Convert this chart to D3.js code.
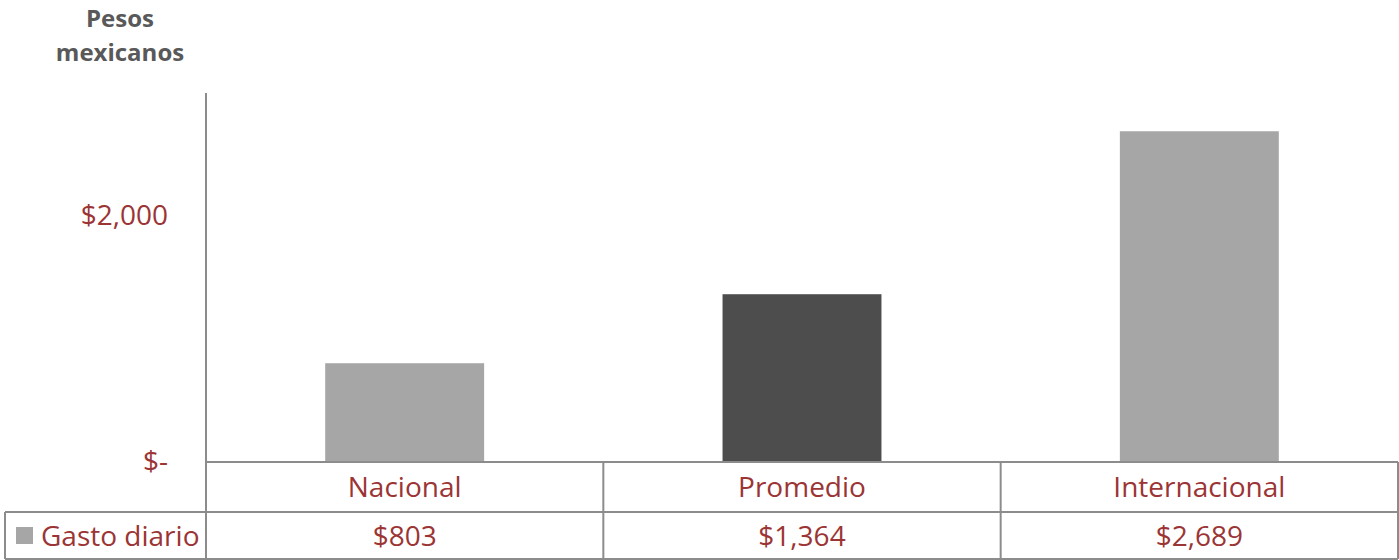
<!DOCTYPE html>
<html>
<head>
<meta charset="utf-8">
<script src="https://cdn.jsdelivr.net/npm/d3@7"></script>
<style>
  body { margin: 0; background: #fff; }
  svg { display: block; font-family: "Open Sans", sans-serif; }
</style>
</head>
<body>
<div id="container"></div>
<script>
const categories = ['Nacional', 'Promedio', 'Internacional']
const values = [803, 1364, 2689]
const yTicks = [0, 2000]
const seriesName = 'Gasto diario'

const addChart = () => {
    const width = 1399
    const height = 560
    const plot = { left: 206, right: 1398, top: 93, bottom: 462 }
    const rowH = [462, 512, 559]
    const red = '#9b3535'
    const grid = '#8c8c8c'
    const fs = 28

    const svg = d3.select('#container')
        .append('svg')
        .attr('width', width)
        .attr('height', height)

    const xScale = d3.scaleBand()
        .domain(categories)
        .range([plot.left, plot.right])
        .paddingInner(0.6)
        .paddingOuter(0.3)

    const yScale = d3.scaleLinear()
        .domain([0, 3000])
        .range([plot.bottom, plot.top])

    // titulo del eje
    const title = svg.append('text')
        .attr('text-anchor', 'middle')
        .attr('fill', '#595959')
        .attr('font-weight', 'bold')
        .attr('font-size', 24)
    title.append('tspan').attr('x', 120).attr('y', 27).text('Pesos')
    title.append('tspan').attr('x', 120).attr('y', 61).text('mexicanos')

    // eje y
    const yAxis = d3.axisLeft(yScale)
        .tickValues(yTicks)
        .tickSize(0)
        .tickPadding(38)
        .tickFormat(d => d === 0 ? '$-' : '$' + d3.format(',')(d))
    svg.append('g')
        .attr('transform', `translate(${plot.left}, 0)`)
        .call(yAxis)
        .call(g => g.select('.domain').remove())
        .call(g => g.selectAll('text')
            .attr('fill', red)
            .attr('font-size', fs)
            .attr('font-family', '"Open Sans", sans-serif'))

    // barras
    svg.selectAll('rect.bar').data(values)
        .join('rect')
        .attr('class', 'bar')
        .attr('x', (d, i) => xScale(categories[i]))
        .attr('y', d => yScale(d))
        .attr('width', xScale.bandwidth())
        .attr('height', d => yScale(0) - yScale(d))
        .attr('fill', (d, i) => categories[i] === 'Promedio' ? '#4d4d4d' : '#a6a6a6')

    // tabla de datos
    const step = xScale.step()
    const lines = svg.append('g')
        .attr('stroke', grid)
        .attr('stroke-width', 2)
    lines.append('line')
        .attr('x1', plot.left).attr('x2', plot.left)
        .attr('y1', plot.top).attr('y2', rowH[2])
    rowH.forEach((y, i) => {
        lines.append('line')
            .attr('x1', i === 0 ? plot.left : 5).attr('x2', plot.right)
            .attr('y1', y).attr('y2', y)
    })
    categories.forEach((c, i) => {
        const x = plot.left + step * (i + 1)
        lines.append('line')
            .attr('x1', Math.min(x, plot.right)).attr('x2', Math.min(x, plot.right))
            .attr('y1', rowH[0]).attr('y2', rowH[2])
    })
    lines.append('line')
        .attr('x1', 5).attr('x2', 5)
        .attr('y1', rowH[1]).attr('y2', rowH[2])

    svg.selectAll('text.cat').data(categories)
        .join('text')
        .attr('class', 'cat')
        .attr('x', d => xScale(d) + xScale.bandwidth() / 2)
        .attr('y', (rowH[0] + rowH[1]) / 2 + 10)
        .attr('text-anchor', 'middle')
        .attr('fill', red)
        .attr('font-size', fs)
        .text(d => d)

    svg.selectAll('text.val').data(values)
        .join('text')
        .attr('class', 'val')
        .attr('x', (d, i) => xScale(categories[i]) + xScale.bandwidth() / 2)
        .attr('y', (rowH[1] + rowH[2]) / 2 + 10)
        .attr('text-anchor', 'middle')
        .attr('fill', red)
        .attr('font-size', fs)
        .text(d => '$' + d3.format(',')(d))

    svg.append('rect')
        .attr('x', 16).attr('y', 527)
        .attr('width', 17).attr('height', 17)
        .attr('fill', '#a6a6a6')
    svg.append('text')
        .attr('x', 41)
        .attr('y', (rowH[1] + rowH[2]) / 2 + 10)
        .attr('fill', red)
        .attr('font-size', fs)
        .text(seriesName)
}

addChart()
</script>
</body>
</html>
